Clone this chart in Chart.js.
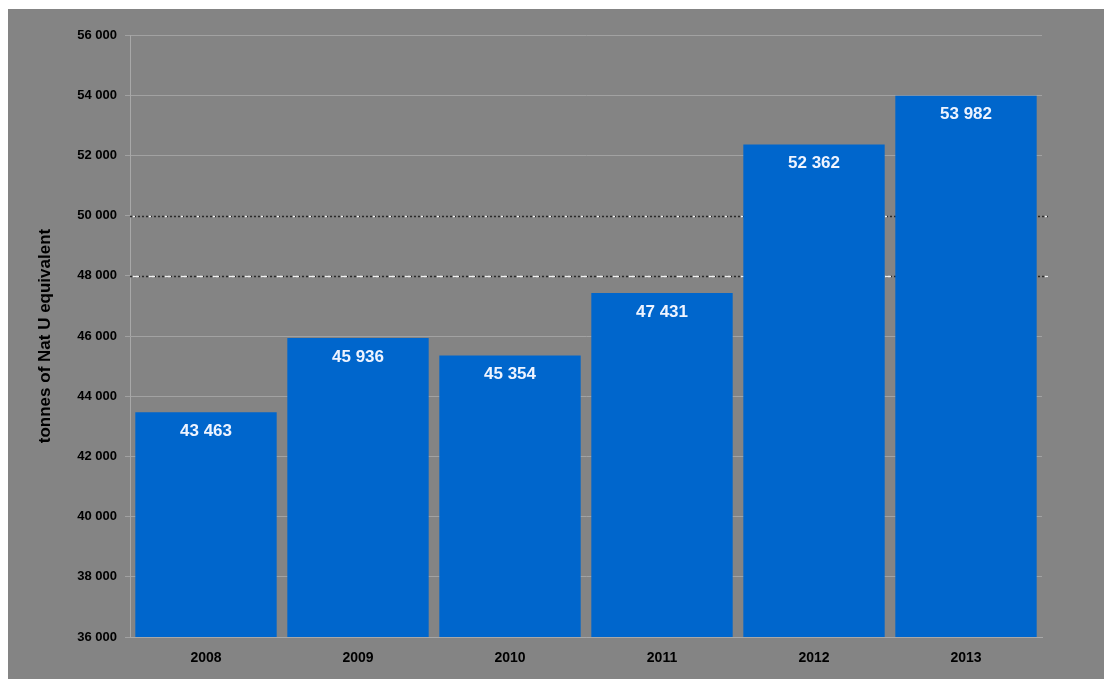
<!DOCTYPE html>
<html>
<head>
<meta charset="utf-8">
<script src="https://cdn.jsdelivr.net/npm/chart.js@4"></script>
<style>
    body { margin: 0; background: #ffffff; }
    #box { position: absolute; left: 8px; top: 9px; width: 1096px; height: 670px; background: #848484; }
</style>
</head>
<body>
<div id="box"><canvas id="uranChart" width="1096" height="670"></canvas></div>
<script>
// Jahre und Werte (Tonnen Nat U)
const jahre = ['2008', '2009', '2010', '2011', '2012', '2013'];
const tonnen = [43463, 45936, 45354, 47431, 52362, 53982];
const yMin = 36000;
const yMax = 56000;
const yStep = 2000;
// die zwei gepunkteten Linien im Original
const punktLinien = [48000, 50000];

function zahl(v) {
    // 45936 -> "45 936"
    return String(v).replace(/\B(?=(\d{3})+(?!\d))/g, ' ');
}

// gepunktete Gitterlinien hinter den Balken
const punktGitter = {
    id: 'punktGitter',
    beforeDatasetsDraw(chart) {
        const ctx = chart.ctx;
        const area = chart.chartArea;
        const y = chart.scales.y;
        ctx.save();
        punktLinien.forEach((v) => {
            const py = Math.round(y.getPixelForValue(v)) + 0.5;
            ctx.lineWidth = 1.5;
            ctx.strokeStyle = '#2b2b2b';
            ctx.setLineDash([2, 2]);
            ctx.beginPath();
            ctx.moveTo(area.left, py);
            ctx.lineTo(area.right + 6, py);
            ctx.stroke();
            ctx.strokeStyle = '#f2f2f2';
            ctx.setLineDash(v === 48000 ? [6, 10] : [2, 14]);
            ctx.beginPath();
            ctx.moveTo(area.left + 3, py);
            ctx.lineTo(area.right + 6, py);
            ctx.stroke();
        });
        ctx.restore();
    }
};

// Werte oben in den Balken
const werteLabels = {
    id: 'werteLabels',
    afterDatasetsDraw(chart) {
        const ctx = chart.ctx;
        const meta = chart.getDatasetMeta(0);
        ctx.save();
        ctx.fillStyle = '#eef4ff';
        ctx.font = 'bold 17px "Liberation Sans", Arial, sans-serif';
        ctx.textAlign = 'center';
        ctx.textBaseline = 'middle';
        meta.data.forEach((bar, i) => {
            ctx.fillText(zahl(tonnen[i]), bar.x, bar.y + 19);
        });
        ctx.restore();
    }
};

const ctx = document.getElementById('uranChart').getContext('2d');
const myChart = new Chart(ctx, {
    type: 'bar',
    data: {
        labels: jahre,
        datasets: [{
            label: 'tonnes of Nat U equivalent',
            data: tonnen,
            backgroundColor: '#0066cc',
            borderWidth: 0,
            categoryPercentage: 1.0,
            barPercentage: 0.93
        }]
    },
    options: {
        responsive: false,
        animation: false,
        layout: { padding: { top: 26, right: 62, bottom: 0, left: 0 } },
        plugins: {
            legend: { display: false },
            tooltip: { enabled: false }
        },
        scales: {
            x: {
                grid: { display: false },
                border: { color: '#a8a8a8', width: 1 },
                ticks: {
                    color: '#000000',
                    padding: 5,
                    font: { family: '"Liberation Sans", Arial, sans-serif', size: 14, weight: 'bold' }
                },
                afterFit(scale) { scale.height = 42; }
            },
            y: {
                min: yMin,
                max: yMax,
                ticks: {
                    stepSize: yStep,
                    color: '#000000',
                    padding: 8,
                    font: { family: '"Liberation Sans", Arial, sans-serif', size: 13, weight: 'bold' },
                    callback: (v) => zahl(v)
                },
                grid: {
                    color: (c) => punktLinien.includes(c.tick && c.tick.value) ? 'rgba(0,0,0,0)' : '#a2a2a2',
                    lineWidth: 1,
                    tickLength: 5,
                    tickColor: '#a2a2a2'
                },
                border: { color: '#a8a8a8', width: 1 },
                title: {
                    display: true,
                    text: 'tonnes of Nat U equivalent',
                    color: '#000000',
                    padding: { top: 27, bottom: 0 },
                    font: { family: '"Liberation Sans", Arial, sans-serif', size: 17, weight: 'bold' }
                },
                afterFit(scale) { scale.width = 122; }
            }
        }
    },
    plugins: [punktGitter, werteLabels]
});
</script>
</body>
</html>
